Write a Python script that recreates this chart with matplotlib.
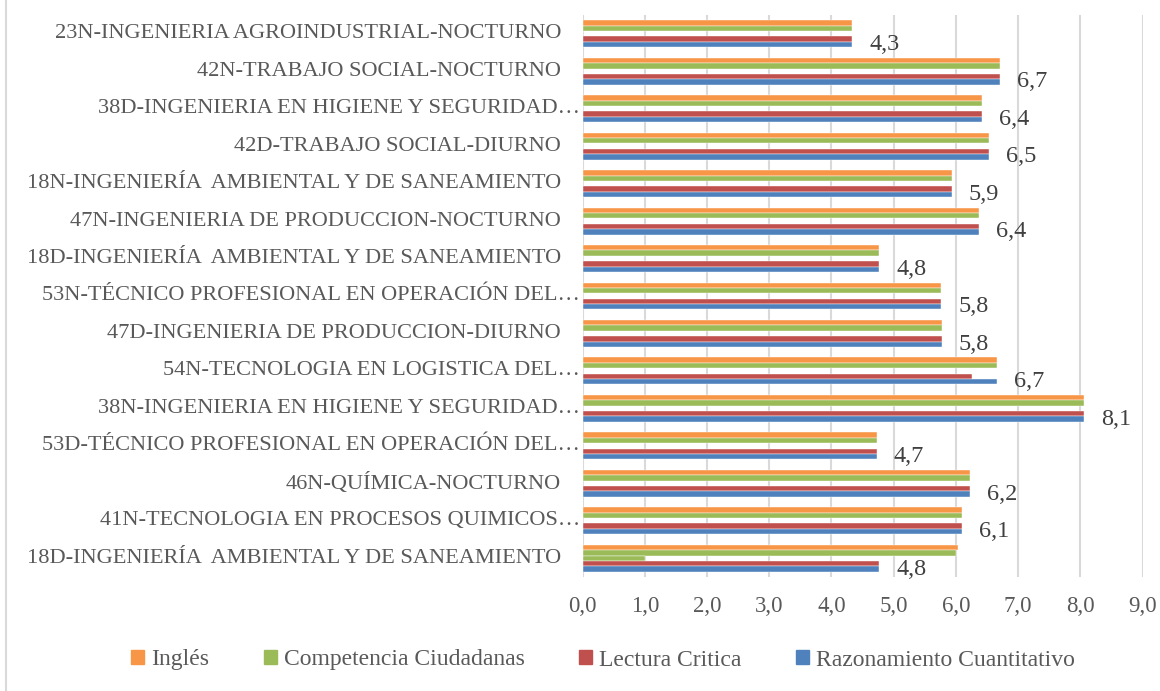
import numpy as np
import matplotlib.pyplot as plt
from matplotlib.patches import Patch
from matplotlib.lines import Line2D

plt.rcParams["font.family"] = ["Liberation Serif", "DejaVu Serif"]

# categorias de arriba hacia abajo
programas = [
    "23N-INGENIERIA AGROINDUSTRIAL-NOCTURNO",
    "42N-TRABAJO SOCIAL-NOCTURNO",
    "38D-INGENIERIA EN HIGIENE Y SEGURIDAD…",
    "42D-TRABAJO SOCIAL-DIURNO",
    "18N-INGENIERÍA  AMBIENTAL Y DE SANEAMIENTO",
    "47N-INGENIERIA DE PRODUCCION-NOCTURNO",
    "18D-INGENIERÍA  AMBIENTAL Y DE SANEAMIENTO",
    "53N-TÉCNICO PROFESIONAL EN OPERACIÓN DEL…",
    "47D-INGENIERIA DE PRODUCCION-DIURNO",
    "54N-TECNOLOGIA EN LOGISTICA DEL…",
    "38N-INGENIERIA EN HIGIENE Y SEGURIDAD…",
    "53D-TÉCNICO PROFESIONAL EN OPERACIÓN DEL…",
    "46N-QUÍMICA-NOCTURNO",
    "41N-TECNOLOGIA EN PROCESOS QUIMICOS…",
    "18D-INGENIERÍA  AMBIENTAL Y DE SANEAMIENTO",
]

razonamiento = [4.33, 6.70, 6.42, 6.53, 5.93, 6.37, 4.77, 5.76, 5.77, 6.66, 8.06, 4.73, 6.22, 6.10, 4.77]
lectura = [4.33, 6.70, 6.42, 6.53, 5.93, 6.37, 4.77, 5.76, 5.77, 6.25, 8.06, 4.73, 6.22, 6.10, 4.77]
competencia = [4.33, 6.70, 6.42, 6.53, 5.93, 6.37, 4.77, 5.76, 5.77, 6.66, 8.06, 4.73, 6.22, 6.10, 6.00]
ingles = [4.33, 6.70, 6.42, 6.53, 5.93, 6.37, 4.77, 5.76, 5.77, 6.66, 8.06, 4.73, 6.22, 6.10, 6.03]
# serie sin leyenda que aparece en el hueco del ultimo grupo
extra = [0, 0, 0, 0, 0, 0, 0, 0, 0, 0, 0, 0, 0, 0, 1.0]

x_ticks = [0, 1, 2, 3, 4, 5, 6, 7, 8, 9]

AZUL = "#4F81BD"
ROJO = "#C0504D"
VERDE = "#9BBB59"
NARANJA = "#F79646"
GRIS_TEXTO = "#595959"


def main():
    fig = plt.figure(figsize=(11.6, 6.91), dpi=100)
    ax = fig.add_axes([582.5 / 1160, 1 - 577 / 691, (1142.7 - 582.5) / 1160, (577 - 15) / 691])

    y = np.arange(len(programas))
    h = 0.144

    series = [
        (ingles, NARANJA, -2),
        (competencia, VERDE, -1),
        (extra, VERDE, 0),
        (lectura, ROJO, 1),
        (razonamiento, AZUL, 2),
    ]
    for valores, color, k in series:
        ax.barh(y + k * h, valores, height=h, color=color,
                edgecolor="white", linewidth=0.3, zorder=3)

    for yi, v in zip(y, razonamiento):
        ax.annotate(f"{v:.1f}".replace(".", ","), xy=(v, yi + 2 * h),
                    xytext=(17, 0), textcoords="offset pixels",
                    ha="left", va="center", fontsize=17.5, color="#404040")

    ax.set_xlim(0, 9)
    ax.set_ylim(len(programas) - 0.5, -0.5)
    ax.set_xticks(x_ticks)
    ax.set_xticklabels([f"{t:.1f}".replace(".", ",") for t in x_ticks],
                       fontsize=16.5, color=GRIS_TEXTO)
    ax.tick_params(axis="x", length=0, pad=14)
    ax.set_yticks([])
    ax.grid(axis="x", color="#D9D9D9", linewidth=1.5, zorder=0)
    for s in ax.spines.values():
        s.set_visible(False)

    for yi, nombre in zip(y, programas):
        fin = 580 if nombre.endswith("…") else 561
        ax.annotate(nombre, xy=(0, yi), xycoords=("axes fraction", "data"),
                    xytext=(fin - 582.5, 0), textcoords="offset pixels",
                    ha="right", va="center", fontsize=16.1, color=GRIS_TEXTO)

    # borde izquierdo del area del grafico
    fig.add_artist(Line2D([5.5 / 1160, 5.5 / 1160], [0, 1], color="#D9D9D9",
                          linewidth=1.5, transform=fig.transFigure))

    handles = [
        Patch(color=NARANJA, label="Inglés"),
        Patch(color=VERDE, label="Competencia Ciudadanas"),
        Patch(color=ROJO, label="Lectura Critica"),
        Patch(color=AZUL, label="Razonamiento Cuantitativo"),
    ]
    fig.legend(handles=handles, loc="center", bbox_to_anchor=(603 / 1160, 1 - 660 / 691),
               ncol=4, frameon=False, fontsize=17, handlelength=0.55, handleheight=0.55,
               handletextpad=0.3, columnspacing=2.3, labelcolor=GRIS_TEXTO)

    fig.savefig("out.png", dpi=100)


if __name__ == "__main__":
    main()
